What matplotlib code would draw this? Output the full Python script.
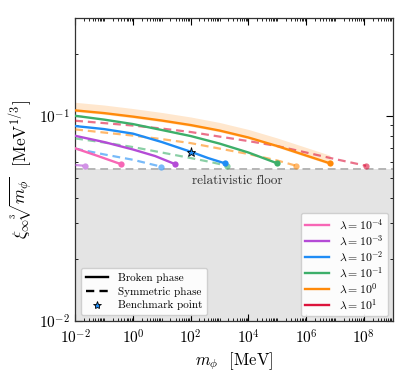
import numpy as np
import matplotlib
matplotlib.use("Agg")
import matplotlib.pyplot as plt
from matplotlib.lines import Line2D
from matplotlib.ticker import LogLocator, NullFormatter, FixedLocator, LogFormatterSciNotation

plt.rcParams.update({
    "font.family": "serif",
    "font.serif": ["cmr10"],
    "mathtext.fontset": "cm",
    "axes.formatter.use_mathtext": True,
    "axes.unicode_minus": False,
})

# ---- data (m_phi in MeV, xi * m^(1/3) in MeV^(1/3)) ----
lam_labels = [r"$\lambda = 10^{-4}$", r"$\lambda = 10^{-3}$", r"$\lambda = 10^{-2}$",
              r"$\lambda = 10^{-1}$", r"$\lambda = 10^{0}$", r"$\lambda = 10^{1}$"]
lam_colors = ["#f766b5", "#b44bd6", "#1f8cf5", "#3daf6a", "#ff8a0a", "#dc143c"]

# broken phase (solid), keyed by lambda index
broken_x = {
    0: [0.01, 0.062, 0.38],
    1: [0.01, 0.1, 1, 5.9, 28.7],
    2: [0.01, 0.1, 1, 10, 100, 400, 1.6e3],
    3: [0.01, 0.1, 1, 10, 100, 1e3, 1e4, 1e5],
    4: [0.01, 0.1, 1, 10, 100, 1e3, 1e4, 1e5, 1e6, 6.7e6],
}
broken_y = {
    0: [0.0696, 0.0638, 0.0583],
    1: [0.0801, 0.0747, 0.0687, 0.0638, 0.0583],
    2: [0.0894, 0.0864, 0.0821, 0.0747, 0.0670, 0.0624, 0.0587],
    3: [0.1003, 0.0961, 0.0914, 0.0855, 0.0799, 0.0734, 0.0664, 0.0588],
    4: [0.1066, 0.1034, 0.0994, 0.0951, 0.0904, 0.0850, 0.0786, 0.0714, 0.0642, 0.0588],
}

# symmetric phase (dashed)
sym_x = {
    1: [0.01, 0.022],
    2: [0.01, 0.1, 1, 9.2],
    3: [0.01, 0.1, 1, 10, 100, 484, 1.85e3],
    4: [0.01, 0.1, 1, 10, 100, 1e3, 1e4, 1e5, 4.6e5],
    5: [0.01, 0.1, 1, 10, 100, 1e3, 1e4, 1e5, 1e6, 1e7, 1.2e8],
}
sym_y = {
    1: [0.0577, 0.0572],
    2: [0.0694, 0.0650, 0.0612, 0.0567],
    3: [0.0778, 0.0743, 0.0706, 0.0664, 0.0624, 0.0597, 0.0572],
    4: [0.0861, 0.0831, 0.0803, 0.0772, 0.0738, 0.0694, 0.0653, 0.0607, 0.0572],
    5: [0.0949, 0.0924, 0.0899, 0.0869, 0.0836, 0.0794, 0.0755, 0.0714, 0.0664, 0.0617, 0.0572],
}

# uncertainty band around lambda = 1 broken phase (relative)
band_lo, band_hi = 0.985, 1.095

floor_val = 0.0551
bench_x, bench_y = 100, 0.067

fig = plt.figure(figsize=(4.11, 3.77), dpi=100)
ax = fig.add_axes([0.183, 0.1485, 0.7725, 0.803])

# relativistic floor
ax.axhspan(0.01, floor_val, color="#e4e4e4", zorder=0, lw=0)
ax.axhline(floor_val, color="#b5b5b5", lw=1.4, ls=(0, (4, 2.5)), zorder=1)
ax.text(4e3, 0.0481, "relativistic floor", ha="center", va="center",
        fontsize=9.5, color="#333333")

# band
bx = np.array(broken_x[4])
by = np.array(broken_y[4])
ax.fill_between(bx, by * band_lo, by * band_hi, color=lam_colors[4], alpha=0.2,
                lw=0, zorder=2)

for i, xs in sym_x.items():
    c = lam_colors[i]
    ax.plot(xs, sym_y[i], color=c, lw=1.6, ls=(0, (3.5, 2.2)), alpha=0.6, zorder=3)
    ax.plot(xs[-1], sym_y[i][-1], "o", color=c, ms=4.5, alpha=0.6, mew=0, zorder=3)

for i, xs in broken_x.items():
    c = lam_colors[i]
    ax.plot(xs, broken_y[i], color=c, lw=1.7, zorder=4)
    ax.plot(xs[-1], broken_y[i][-1], "o", color=c, ms=4.5, mew=0, zorder=4)

ax.plot(bench_x, bench_y, "*", color=lam_colors[2], mec="black", mew=0.6, ms=6.5, zorder=6)

ax.set_xscale("log")
ax.set_yscale("log")
ax.set_xlim(1e-2, 1e9)
ax.set_ylim(1e-2, 0.3)

ax.xaxis.set_major_locator(FixedLocator([1e-2, 1, 1e2, 1e4, 1e6, 1e8]))
ax.xaxis.set_major_formatter(LogFormatterSciNotation())
ax.xaxis.set_minor_locator(LogLocator(base=10, subs=np.arange(1, 10), numticks=100))
ax.xaxis.set_minor_formatter(NullFormatter())
ax.yaxis.set_major_locator(FixedLocator([1e-2, 1e-1]))
ax.yaxis.set_major_formatter(LogFormatterSciNotation())
ax.yaxis.set_minor_locator(LogLocator(base=10, subs=np.arange(2, 10), numticks=100))
ax.yaxis.set_minor_formatter(NullFormatter())

ax.tick_params(which="both", direction="in", top=True, right=True, labelsize=11)
ax.tick_params(axis="x", which="major", pad=5)
ax.tick_params(which="major", length=5, width=0.8)
ax.tick_params(which="minor", length=2.5, width=0.6)
for s in ax.spines.values():
    s.set_color("#333333")
    s.set_linewidth(0.9)

ax.set_xlabel(r"$m_\phi$  [MeV]", fontsize=12, labelpad=3)
ax.set_ylabel(r"$\xi_\infty\sqrt[3]{m_\phi}$  [MeV$^{1/3}$]", fontsize=12.5, labelpad=3)

# legend for lambda colours
lam_handles = [Line2D([0], [0], color=c, lw=1.7) for c in lam_colors]
leg1 = ax.legend(lam_handles, lam_labels, loc="lower right", fontsize=8.5,
                 handlelength=2.0, borderaxespad=0.4, framealpha=0.9,
                 labelspacing=0.15, borderpad=0.4, handletextpad=0.8)
ax.add_artist(leg1)

style_handles = [
    Line2D([0], [0], color="black", lw=1.7),
    Line2D([0], [0], color="black", lw=1.7, ls=(0, (3.5, 2.2))),
    Line2D([0], [0], marker="*", color=lam_colors[2], mec="black", mew=0.6, ms=6, lw=0),
]
ax.legend(style_handles, ["Broken phase", "Symmetric phase", "Benchmark point"],
          loc="lower left", fontsize=8, handlelength=2.0, borderaxespad=0.5,
          framealpha=0.9, labelspacing=0.35, borderpad=0.45, handletextpad=0.9)

fig.savefig("out.png", dpi=100)
